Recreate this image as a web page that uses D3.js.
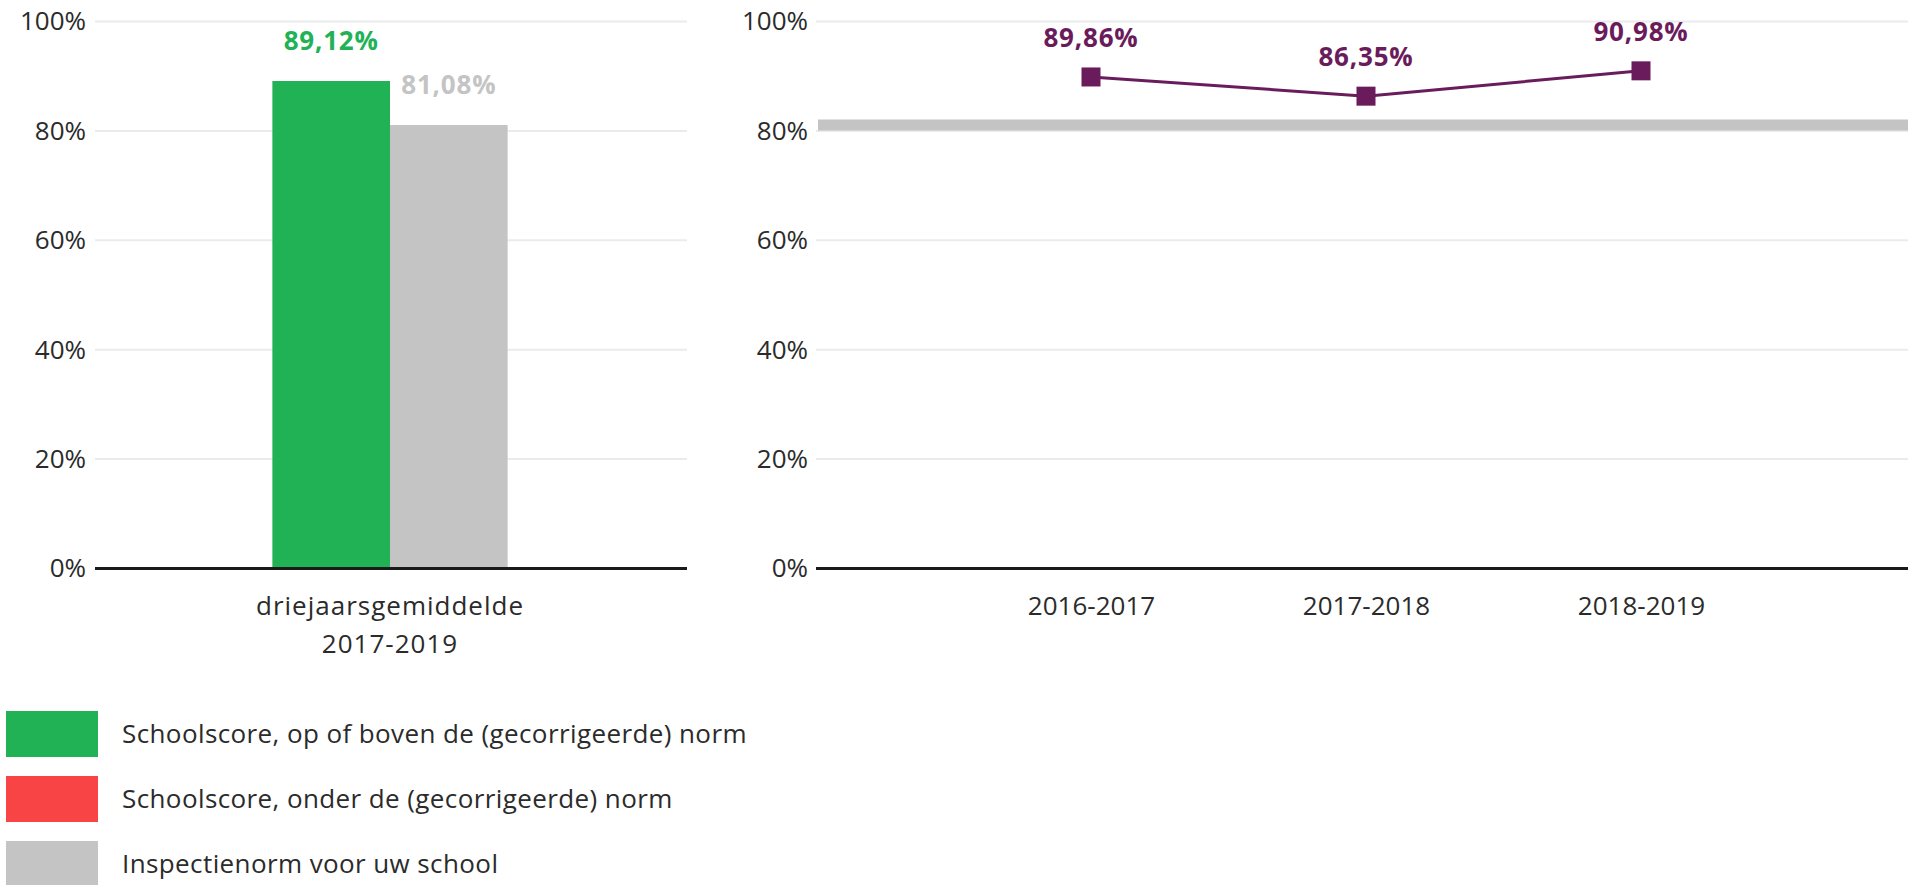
<!DOCTYPE html>
<html>
<head>
<meta charset="utf-8">
<script src="https://cdn.jsdelivr.net/npm/d3@7"></script>
<style>
  html, body { margin: 0; padding: 0; background: #fff; }
  svg { display: block; font-family: "Open Sans", "DejaVu Sans", sans-serif; }
</style>
</head>
<body>
<svg id="chart" width="1908" height="885"></svg>
<script>
// ---------- data ----------
const barCategories = ["driejaarsgemiddelde|2017-2019"];
const barSeries = ["school", "norm"];
const schoolAverage = [89.12];
const normValue = [81.08];

const years = ["2016-2017", "2017-2018", "2018-2019"];
const yearScores = [89.86, 86.35, 90.98];

const yTicks = [0, 20, 40, 60, 80, 100];

const legendLabels = [
  "Schoolscore, op of boven de (gecorrigeerde) norm",
  "Schoolscore, onder de (gecorrigeerde) norm",
  "Inspectienorm voor uw school"
];

// ---------- styles ----------
const GREEN = "#21b256", RED = "#f84444", GRAY = "#c4c4c4", PURPLE = "#6a1b5b";
const GRID = "#ebebeb", AXIS = "#1a1a1a", TEXT = "#2b2b2b";
const fmt = v => v.toFixed(2).replace(".", ",") + "%";

const svg = d3.select("#chart");

const y = d3.scaleLinear().domain([0, 100]).range([568.5, 21.5]);

// ---------- left panel ----------
const L = { x0: 95, x1: 687, labelX: 86 };
const left = svg.append("g");

left.append("g").selectAll("line").data(yTicks.filter(t => t > 0)).join("line")
  .attr("x1", L.x0).attr("x2", L.x1)
  .attr("y1", d => y(d)).attr("y2", d => y(d))
  .attr("stroke", GRID).attr("stroke-width", 2);

const yAxisL = d3.axisLeft(y).tickValues(yTicks).tickFormat(d => d + "%").tickSize(0).tickPadding(0);
left.append("g").attr("transform", `translate(${L.labelX},0)`).call(yAxisL)
  .call(g => g.select(".domain").remove())
  .call(g => g.selectAll("text").attr("font-size", 26).attr("fill", TEXT).attr("font-family", "Open Sans"));

const x0 = d3.scaleBand().domain(barCategories).range([L.x0, L.x1 - 2]).paddingInner(0).paddingOuter(0.754);
const x1 = d3.scaleBand().domain(barSeries).range([0, x0.bandwidth()]);

const barData = barCategories.map((c, i) => ({
  cat: c,
  vals: [
    { key: "school", v: schoolAverage[i], color: schoolAverage[i] >= normValue[i] ? GREEN : RED },
    { key: "norm", v: normValue[i], color: GRAY }
  ]
}));

const groups = left.append("g").selectAll("g").data(barData).join("g")
  .attr("transform", d => `translate(${x0(d.cat)},0)`);

groups.selectAll("rect").data(d => d.vals).join("rect")
  .attr("x", d => x1(d.key)).attr("width", x1.bandwidth())
  .attr("y", d => y(d.v)).attr("height", d => y(0) - y(d.v))
  .attr("fill", d => d.color);

groups.selectAll("text.val").data(d => d.vals).join("text").attr("class", "val")
  .attr("x", d => x1(d.key) + x1.bandwidth() / 2)
  .attr("y", d => y(d.v) - 31)
  .attr("text-anchor", "middle")
  .attr("font-size", 26).attr("font-weight", "bold").attr("letter-spacing", 0.8)
  .attr("fill", d => d.color)
  .text(d => fmt(d.v));

// x labels (two lines)
groups.append("text")
  .attr("x", x0.bandwidth() / 2)
  .attr("text-anchor", "middle").attr("font-size", 26).attr("fill", TEXT)
  .attr("letter-spacing", 1)
  .selectAll("tspan").data(d => d.cat.split("|")).join("tspan")
  .attr("x", x0.bandwidth() / 2)
  .attr("y", (d, i) => 615 + i * 38)
  .text(d => d);

left.append("line").attr("x1", L.x0).attr("x2", L.x1)
  .attr("y1", y(0)).attr("y2", y(0)).attr("stroke", AXIS).attr("stroke-width", 3);

// ---------- right panel ----------
const R = { x0: 816, x1: 1908, labelX: 808 };
const right = svg.append("g");

right.append("g").selectAll("line").data(yTicks.filter(t => t > 0)).join("line")
  .attr("x1", R.x0).attr("x2", R.x1)
  .attr("y1", d => y(d)).attr("y2", d => y(d))
  .attr("stroke", GRID).attr("stroke-width", 2);

const yAxisR = d3.axisLeft(y).tickValues(yTicks).tickFormat(d => d + "%").tickSize(0).tickPadding(0);
right.append("g").attr("transform", `translate(${R.labelX},0)`).call(yAxisR)
  .call(g => g.select(".domain").remove())
  .call(g => g.selectAll("text").attr("font-size", 26).attr("fill", TEXT).attr("font-family", "Open Sans"));

// norm band
right.append("line").attr("x1", R.x0 + 2).attr("x2", R.x1)
  .attr("y1", y(normValue[0])).attr("y2", y(normValue[0]))
  .attr("stroke", GRAY).attr("stroke-width", 11);

const xp = d3.scalePoint().domain(years).range([R.x0, 1916]).padding(1);

const lineData = years.map((yr, i) => ({ yr, v: yearScores[i] }));

right.append("path").datum(lineData)
  .attr("d", d3.line().x(d => xp(d.yr)).y(d => y(d.v)))
  .attr("fill", "none").attr("stroke", PURPLE).attr("stroke-width", 3);

const ms = 19;
right.append("g").selectAll("rect").data(lineData).join("rect")
  .attr("x", d => xp(d.yr) - ms / 2).attr("y", d => y(d.v) - ms / 2)
  .attr("width", ms).attr("height", ms).attr("fill", PURPLE);

right.append("g").selectAll("text").data(lineData).join("text")
  .attr("x", d => xp(d.yr)).attr("y", d => y(d.v) - 30)
  .attr("text-anchor", "middle").attr("font-size", 26).attr("font-weight", "bold")
  .attr("letter-spacing", 0.8)
  .attr("fill", PURPLE).text(d => fmt(d.v));

const xAxisR = d3.axisBottom(xp).tickSize(0).tickPadding(0);
right.append("g").attr("transform", `translate(0,${y(0)})`).call(xAxisR)
  .call(g => g.select(".domain").remove())
  .call(g => g.selectAll("text").attr("dy", null).attr("y", 615 - y(0))
    .attr("font-size", 26).attr("fill", TEXT).attr("font-family", "Open Sans"));

right.append("line").attr("x1", R.x0).attr("x2", R.x1)
  .attr("y1", y(0)).attr("y2", y(0)).attr("stroke", AXIS).attr("stroke-width", 3);

// ---------- legend ----------
const legendColors = [GREEN, RED, GRAY];
const lg = svg.append("g").selectAll("g").data(legendLabels).join("g")
  .attr("transform", (d, i) => `translate(6,${711 + i * 65})`);
lg.append("rect").attr("width", 92).attr("height", 46).attr("fill", (d, i) => legendColors[i]);
lg.append("text").attr("x", 116).attr("y", 23).attr("dy", "0.35em")
  .attr("font-size", 26).attr("letter-spacing", 0.4).attr("fill", TEXT).text(d => d);
</script>
</body>
</html>
